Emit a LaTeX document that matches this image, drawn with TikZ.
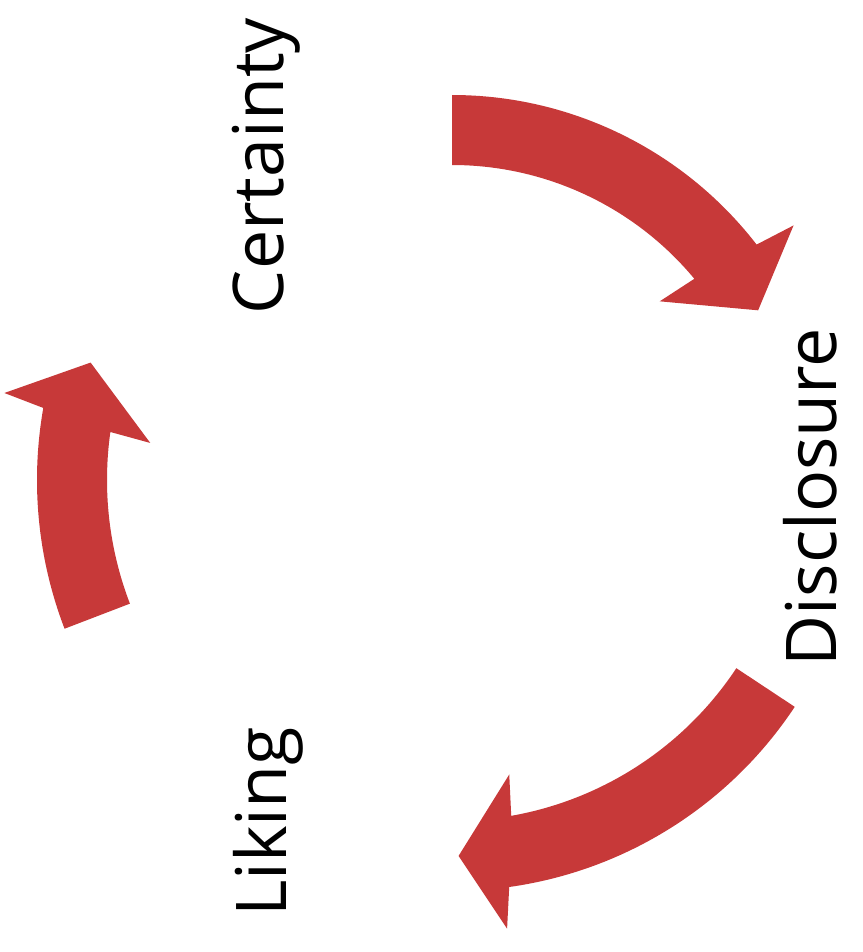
\documentclass[tikz,border=0pt]{standalone}
\usepackage{fontspec}
\setmainfont{Open Sans}
\definecolor{cyclered}{RGB}{199,57,57}

% Curved block arrow on a circle about the current origin, running clockwise.
% #1 mid radius (pt), #2 tail angle, #3 angle where the head starts, #4 tip angle.
% The head's base is tilted a little, so its outer corners sit nearer the tip.
\newcommand{\cyclearrow}[4]{%
  \fill[arrowfill]
    (#2:#1pt+35pt) arc[start angle=#2, end angle=#3-1, radius=#1pt+35pt]
    -- (#3-2:#1pt+76pt) -- (#4:#1pt) -- (#3+2:#1pt-76pt)
    -- (#3+1:#1pt-35pt) arc[start angle=#3+1, end angle=#2, radius=#1pt-35pt]
    -- cycle;}

\begin{document}
\begin{tikzpicture}[
    arrowfill/.style={fill=cyclered},
    stagelabel/.style={rotate=90, anchor=base, inner sep=0pt,
      font=\fontsize{70pt}{84pt}\selectfont, text=black}]
  \useasboundingbox (0pt,0pt) rectangle (862pt,-952pt);

  % stage names, reading upwards
  \node[stagelabel] (cert)  at (283pt,-166pt) {Certainty};
  \node[stagelabel] (discl) at (836pt,-497pt) {Disclosure};
  \node[stagelabel] (lik)   at (286pt,-822pt) {Liking};

  % the three arrows of the cycle
  \begin{scope}[shift={(452pt,-480pt)}]
    \cyclearrow{350}{90}{38.7}{29}
    \cyclearrow{376}{-33.5}{-81}{-89}
    \cyclearrow{380}{201}{171}{162}
  \end{scope}
\end{tikzpicture}
\end{document}
